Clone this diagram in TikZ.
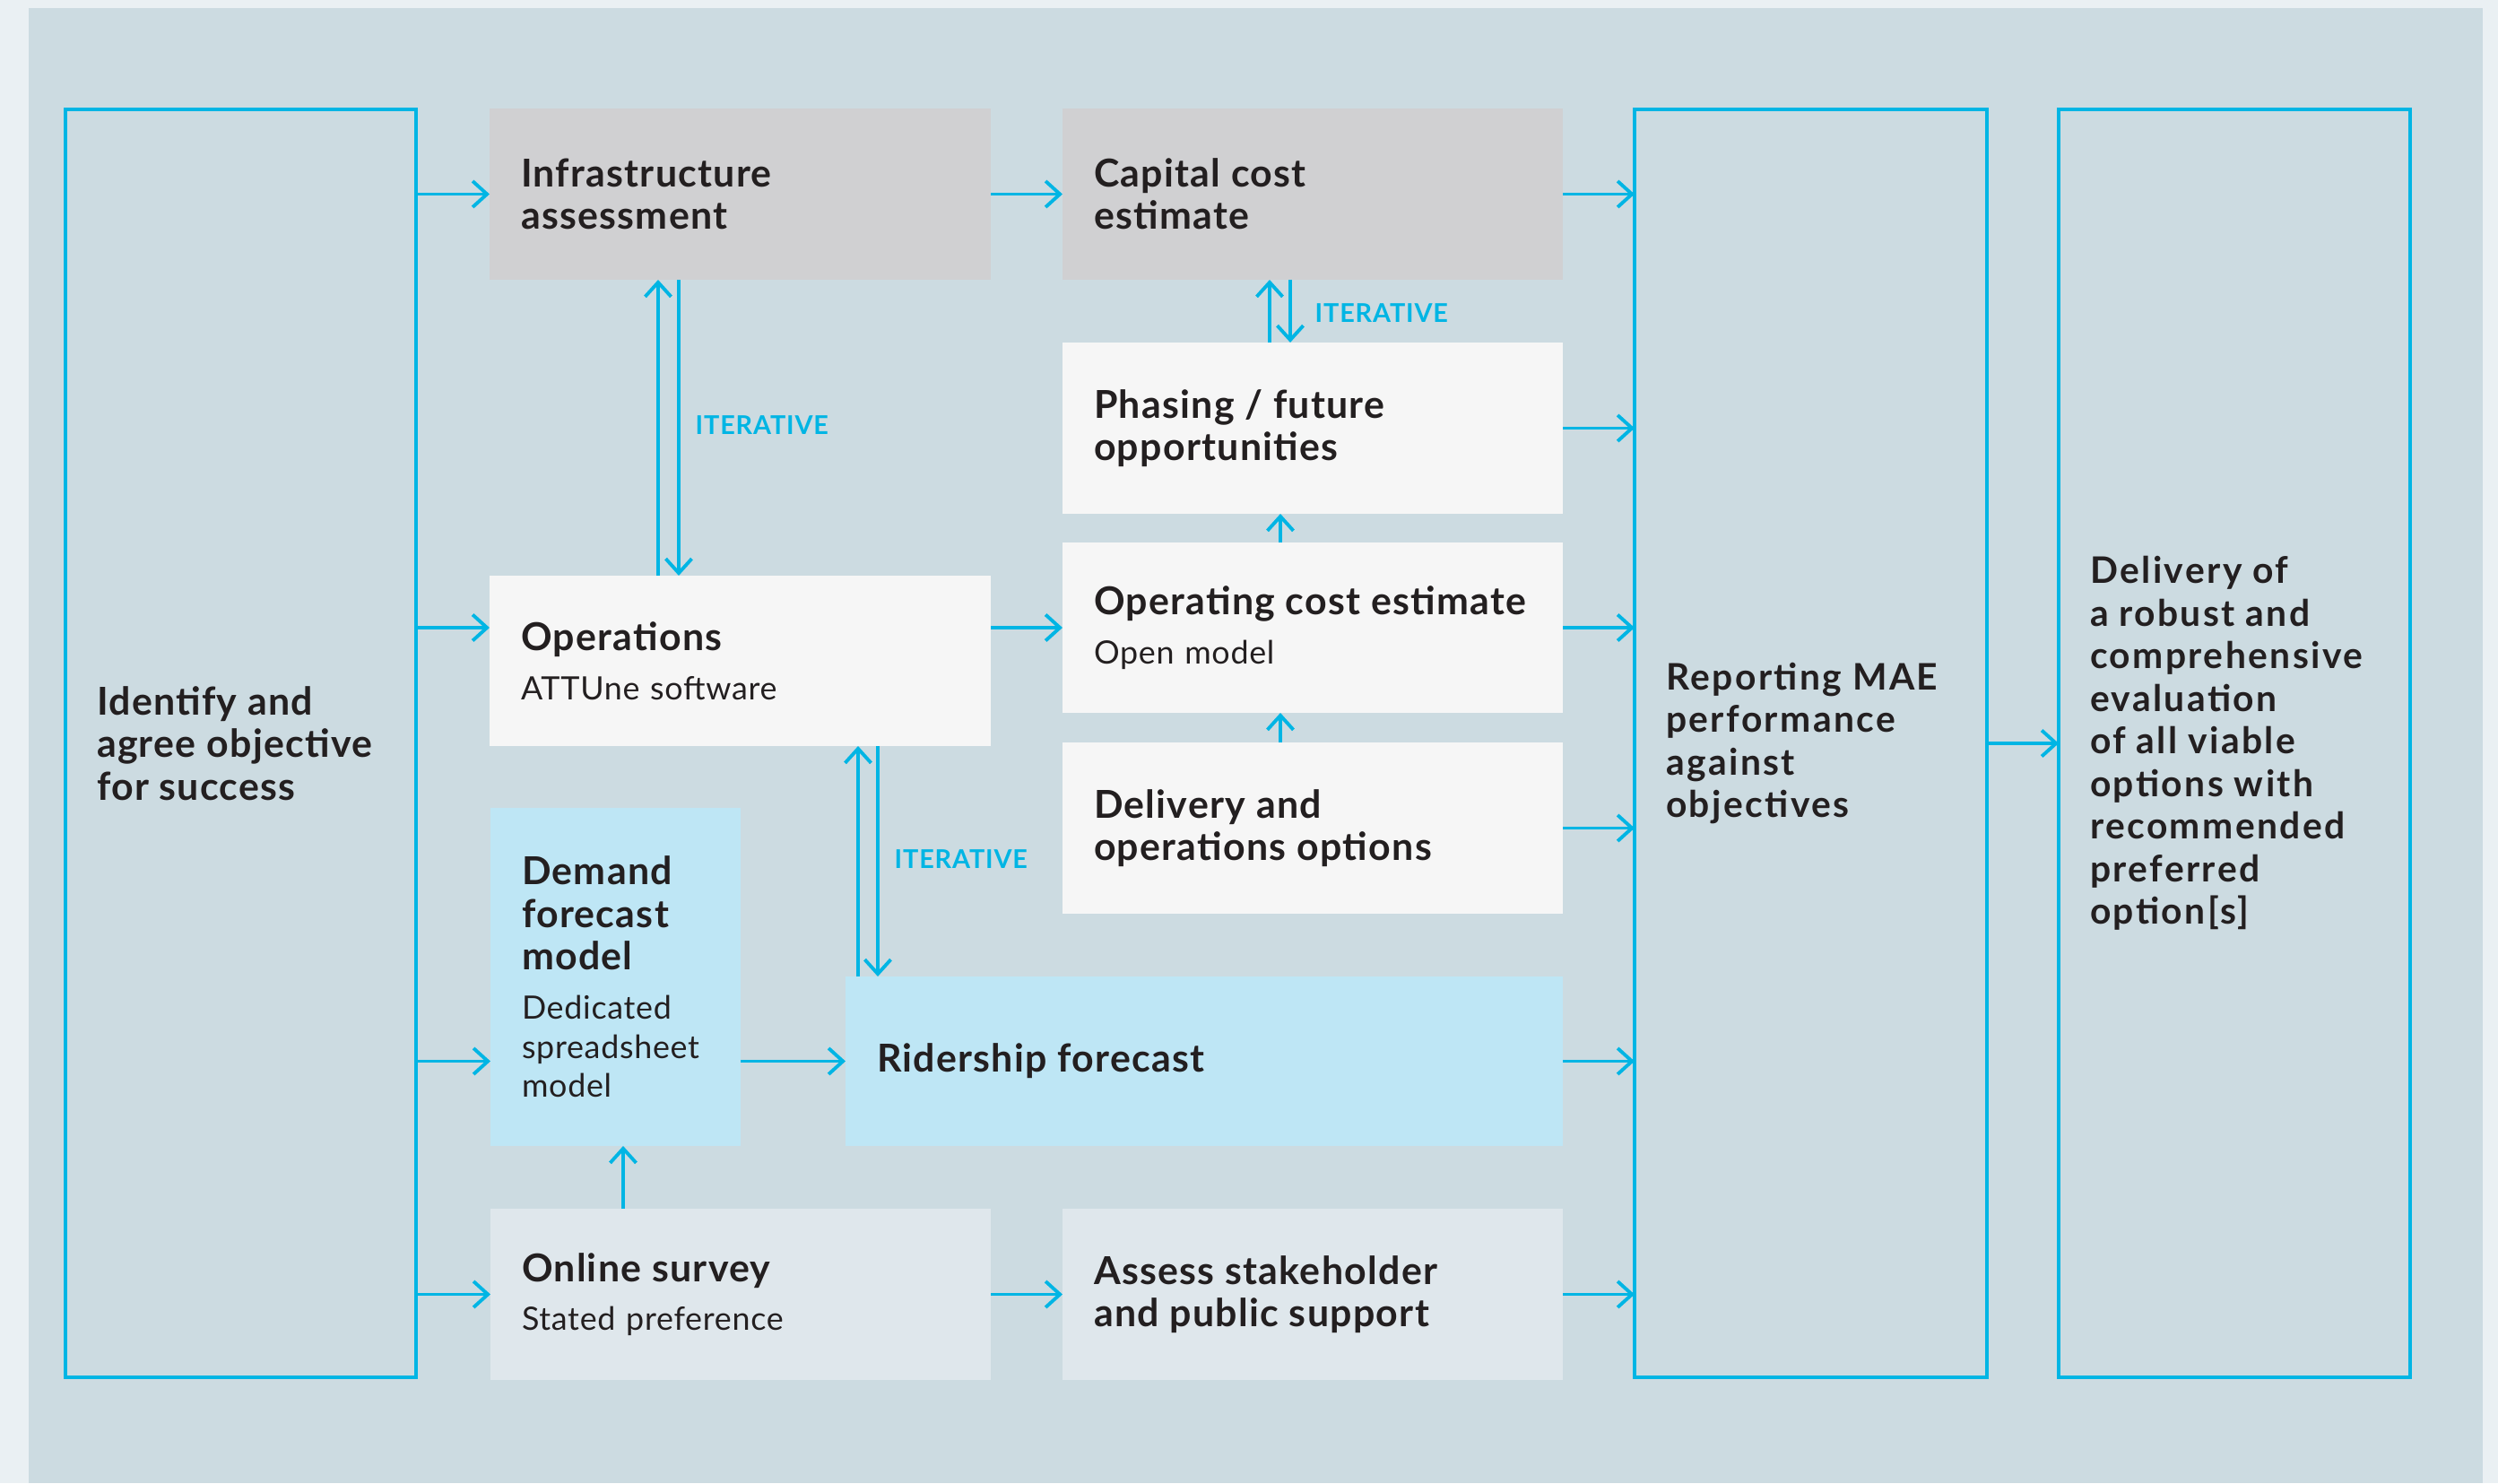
\documentclass[tikz,border=0pt]{standalone}
\usepackage{fontspec}
\setmainfont{Lato}
\usetikzlibrary{arrows.meta,calc}
\definecolor{outerbg}{HTML}{EAF0F3}
\definecolor{panel}{HTML}{CCDBE1}
\definecolor{greybox}{HTML}{D0D0D2}
\definecolor{whitebox}{HTML}{F6F6F6}
\definecolor{bluebox}{HTML}{BEE6F5}
\definecolor{palebox}{HTML}{DFE7EC}
\definecolor{cyanc}{HTML}{00B5E4}
\definecolor{ink}{HTML}{231F20}
\newcommand\ttl[1]{{\fontsize{12.2}{13.5}\selectfont\bfseries\addfontfeatures{LetterSpace=3}#1\par}}
\newcommand\subt[1]{{\vspace{3pt}\fontsize{10.2}{12.5}\selectfont\addfontfeatures{LetterSpace=2}#1\par}}
\newcommand\widettl[1]{{\fontsize{11.6}{13.5}\selectfont\bfseries\addfontfeatures{LetterSpace=6}#1\par}}
\tikzset{
  box/.style={anchor=north west, inner xsep=0.35cm, inner ysep=0pt, align=left, text=ink, outer sep=0pt},
  bigbox/.style={box, draw=cyanc, line width=1.1pt},
  arr/.style={draw=cyanc, line width=1.1pt, -{Straight Barb[length=1.6mm,width=2.9mm]}},
  iter/.style={text=cyanc, anchor=west, inner sep=0pt, font=\fontsize{8.2}{9}\selectfont\bfseries\addfontfeatures{LetterSpace=3}}
}
\begin{document}
\begin{tikzpicture}
\useasboundingbox (0,0) rectangle (27.86,-16.54);
\fill[outerbg] (0,0) rectangle (27.86,-16.54);
\fill[panel] (0.32,-0.09) rectangle (27.69,-16.54);

% big outlined boxes
\node[bigbox, text width=3.21cm, minimum height=14.14cm] (ident) at (0.73,-1.22)
  {\ttl{Identify and\\agree objective\\for success}};
\node[bigbox, text width=3.23cm, minimum height=14.14cm] (report) at (18.23,-1.22)
  {\widettl{Reporting MAE\\performance\\against\\objectives}};
\node[bigbox, text width=3.22cm, minimum height=14.14cm] (deliv) at (22.96,-1.22)
  {\widettl{Delivery of\\a robust and\\comprehensive\\evaluation\\of all viable\\options with\\recommended\\preferred\\option[s]}};

% filled boxes
\node[box, fill=greybox, text width=4.89cm, minimum height=1.91cm] (infra) at (5.46,-1.21)
  {\ttl{Infrastructure\\assessment}};
\node[box, fill=greybox, text width=4.88cm, minimum height=1.91cm] (capital) at (11.85,-1.21)
  {\ttl{Capital cost\\estimate}};
\node[box, fill=whitebox, text width=4.88cm, minimum height=1.91cm] (phasing) at (11.85,-3.82)
  {\ttl{Phasing / future\\opportunities}};
\node[box, fill=whitebox, text width=4.88cm, minimum height=1.90cm] (opcost) at (11.85,-6.05)
  {\ttl{Operating cost estimate}\subt{Open model}};
\node[box, fill=whitebox, text width=4.89cm, minimum height=1.90cm] (ops) at (5.46,-6.42)
  {\ttl{Operations}\subt{ATTUne software}};
\node[box, fill=whitebox, text width=4.88cm, minimum height=1.91cm] (delopt) at (11.85,-8.28)
  {\ttl{Delivery and\\operations options}};
\node[box, fill=bluebox, text width=2.09cm, minimum height=3.77cm] (demand) at (5.47,-9.01)
  {\ttl{Demand\\forecast\\model}\subt{Dedicated\\spreadsheet\\model}};
\node[box, fill=bluebox, text width=7.30cm, minimum height=1.89cm] (rider) at (9.43,-10.89)
  {\ttl{Ridership forecast}};
\node[box, fill=palebox, text width=4.88cm, minimum height=1.91cm] (survey) at (5.47,-13.48)
  {\ttl{Online survey}\subt{Stated preference}};
\node[box, fill=palebox, text width=4.88cm, minimum height=1.91cm] (assess) at (11.85,-13.48)
  {\ttl{Assess stakeholder\\and public support}};

% iterative labels
\node[iter] (it1) at (7.75,-4.74) {ITERATIVE};
\node[iter] (it2) at (14.66,-3.49) {ITERATIVE};
\node[iter] (it3) at (9.97,-9.58) {ITERATIVE};

% arrows from the left box
\draw[arr] (ident.east |- infra.west) -- (infra.west);
\draw[arr] (ident.east |- opcost.west) -- (ops.west |- opcost.west);
\draw[arr] (ident.east |- rider.west) -- (demand.west |- rider.west);
\draw[arr] (ident.east |- survey.west) -- (survey.west);

% middle arrows
\draw[arr] (infra.east) -- (capital.west);
\draw[arr] (ops.east |- opcost.west) -- (opcost.west);
\draw[arr] (demand.east |- rider.west) -- (rider.west);
\draw[arr] (survey.east) -- (assess.west);

% arrows into the reporting box
\foreach \n in {capital,phasing,opcost,delopt,rider,assess}
  \draw[arr] (\n.east) -- (report.west |- \n.east);
\draw[arr] (report.east) -- (deliv.west |- report.east);

% vertical single arrows
\coordinate (xu) at (14.28,0);
\coordinate (xs) at (6.95,0);
\draw[arr] (opcost.north -| xu) -- (phasing.south -| xu);
\draw[arr] (delopt.north -| xu) -- (opcost.south -| xu);
\draw[arr] (survey.north -| xs) -- (demand.south -| xs);

% iterative pairs
\coordinate (xa) at (7.34,0);
\coordinate (xb) at (7.57,0);
\draw[arr] (ops.north -| xa) -- (infra.south -| xa);
\draw[arr] (infra.south -| xb) -- (ops.north -| xb);
\coordinate (xc) at (14.16,0);
\coordinate (xd) at (14.39,0);
\draw[arr] (phasing.north -| xc) -- (capital.south -| xc);
\draw[arr] (capital.south -| xd) -- (phasing.north -| xd);
\coordinate (xe) at (9.57,0);
\coordinate (xf) at (9.79,0);
\draw[arr] (rider.north -| xe) -- (ops.south -| xe);
\draw[arr] (ops.south -| xf) -- (rider.north -| xf);
\end{tikzpicture}
\end{document}
